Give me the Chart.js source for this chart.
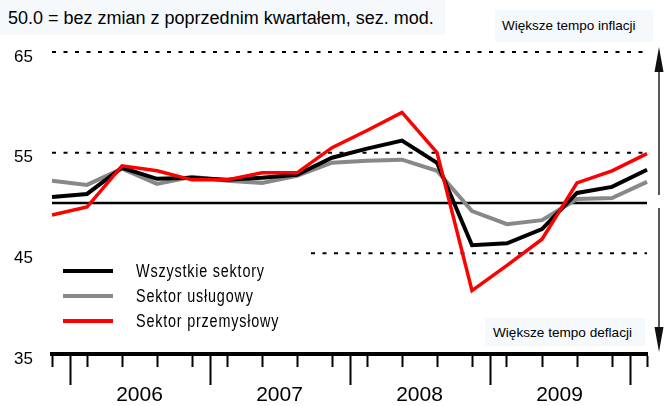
<!DOCTYPE html>
<html>
<head>
<meta charset="utf-8">
<script src="https://cdn.jsdelivr.net/npm/chart.js@4.4.1/dist/chart.umd.min.js"></script>
<style>
  html, body { margin: 0; padding: 0; background: #fff; }
  #wrap { position: relative; width: 665px; height: 406px; font-family: "Liberation Sans", Arial, sans-serif; overflow: hidden; }
  canvas { position: absolute; left: 0; top: 0; }
  .box { position: absolute; background: #f5f9fc; color: #000; white-space: nowrap; box-sizing: border-box; }
  #title { left: 0; top: 0; width: 445px; height: 35px; font-size: 18px; line-height: 36px; padding-left: 8px; }
  #infl { left: 495px; top: 10px; width: 158px; height: 32px; font-size: 13.5px; line-height: 32px; padding-left: 7px; }
  #defl { left: 485px; top: 318px; width: 160px; height: 28px; font-size: 13.6px; line-height: 29px; padding-left: 8px; }
  .legLine { position: absolute; left: 63px; width: 50px; height: 4px; }
  .legText { position: absolute; left: 136px; font-size: 18px; letter-spacing: 1px; line-height: 20px; white-space: nowrap; transform: scaleX(0.8); transform-origin: 0 0; }
</style>
</head>
<body>
<div id="wrap">
  <div class="box" id="title">50.0 = bez zmian z poprzednim kwartałem, sez. mod.</div>
  <div class="box" id="infl">Większe tempo inflacji</div>
  <div class="box" id="defl">Większe tempo deflacji</div>
  <canvas id="chart" width="665" height="406"></canvas>
</div>
<script>
// kwartały: IV kw. 2005 ... I kw. 2010
const quarters = [
  "IV 2005",
  "I 2006", "II 2006", "III 2006", "IV 2006",
  "I 2007", "II 2007", "III 2007", "IV 2007",
  "I 2008", "II 2008", "III 2008", "IV 2008",
  "I 2009", "II 2009", "III 2009", "IV 2009",
  "I 2010",
];

const seriesNames = ["Wszystkie sektory", "Sektor usługowy", "Sektor przemysłowy"];
const allSectors = [50.6, 50.9, 53.5, 52.4, 52.5, 52.3, 52.5, 52.8, 54.5, 55.4, 56.2, 54.0, 45.8, 46.0, 47.4, 51.0, 51.6, 53.3];
const services   = [52.2, 51.8, 53.4, 51.9, 52.6, 52.2, 52.0, 52.7, 54.0, 54.2, 54.3, 53.2, 49.2, 47.9, 48.3, 50.4, 50.5, 52.1];
const industry   = [48.8, 49.6, 53.7, 53.2, 52.3, 52.3, 53.0, 53.0, 55.5, 57.2, 59.0, 55.0, 41.3, 43.8, 46.4, 52.0, 53.2, 54.9];

const yTicks = [35, 45, 55, 65];
const baseLevel = 50;
const dashedLevels = [65, 55, 45];
const dashedFrom = [0, 0, 7.4];

const colors = ["#000000", "#888888", "#ff0000"];
const widths = [4, 4, 3.5];
const legendY = [271, 296, 321];

// legenda
const wrap = document.getElementById("wrap");
seriesNames.forEach((name, i) => {
  const line = document.createElement("div");
  line.className = "legLine";
  line.style.top = (legendY[i] - 2) + "px";
  line.style.background = colors[i];
  wrap.appendChild(line);
  const txt = document.createElement("div");
  txt.className = "legText";
  txt.style.top = (legendY[i] - 10) + "px";
  txt.textContent = name;
  wrap.appendChild(txt);
});

const toPoints = (arr) => arr.map((v, i) => ({ x: i, y: v }));
const last = quarters.length - 1;

// granice lat i etykiety lat z listy kwartałów
const yearOf = (q) => q.split(" ")[1];
const years = [];
quarters.forEach((q, i) => {
  const y = yearOf(q);
  let item = years.find((e) => e.year === y);
  if (!item) {
    item = { year: y, first: i, last: i };
    years.push(item);
  }
  item.last = i;
});

const decorPlugin = {
  id: "decor",
  afterDraw(chart) {
    const { ctx, chartArea } = chart;
    const xs = chart.scales.x;
    const ys = chart.scales.y;
    ctx.save();
    // długie kreski między latami
    ctx.strokeStyle = "#000";
    ctx.lineWidth = 2;
    years.forEach((e) => {
      if (e.first === 0) return;
      const px = Math.round(xs.getPixelForValue(e.first - 0.5)) + 0.5;
      ctx.beginPath();
      ctx.moveTo(px, chartArea.bottom);
      ctx.lineTo(px, chartArea.bottom + 31);
      ctx.stroke();
    });
    // etykiety lat (tylko pełne lata)
    ctx.fillStyle = "#000";
    ctx.font = "21px 'Liberation Sans', Arial, sans-serif";
    ctx.textAlign = "center";
    ctx.textBaseline = "top";
    years.forEach((e) => {
      if (e.last - e.first < 3) return;
      const px = xs.getPixelForValue((e.first + e.last) / 2);
      ctx.fillText(e.year, px, chartArea.bottom + 31);
    });
    // strzałki po prawej
    const ax = chartArea.right + 12;
    ctx.strokeStyle = "#222";
    ctx.fillStyle = "#111";
    ctx.lineWidth = 1.5;
    const up0 = ys.getPixelForValue(50.8), upTip = ys.getPixelForValue(65.5);
    const dn0 = ys.getPixelForValue(49.5), dnTip = ys.getPixelForValue(35.2);
    ctx.beginPath();
    ctx.moveTo(ax, up0); ctx.lineTo(ax, upTip + 20);
    ctx.moveTo(ax, dn0); ctx.lineTo(ax, dnTip - 20);
    ctx.stroke();
    ctx.beginPath();
    ctx.moveTo(ax, upTip); ctx.lineTo(ax - 4.5, upTip + 25); ctx.lineTo(ax + 4.5, upTip + 25); ctx.closePath();
    ctx.moveTo(ax, dnTip); ctx.lineTo(ax - 4.5, dnTip - 25); ctx.lineTo(ax + 4.5, dnTip - 25); ctx.closePath();
    ctx.fill();
    ctx.restore();
  },
};

const seriesData = [allSectors, services, industry];
const order = [2, 3, 1];
const datasets = seriesData.map((arr, i) => ({
  label: seriesNames[i],
  data: toPoints(arr),
  borderColor: colors[i],
  borderWidth: widths[i],
  order: order[i],
}));

datasets.push({
  label: "base",
  data: [{ x: 0, y: baseLevel }, { x: last, y: baseLevel }],
  borderColor: "#000",
  borderWidth: 2.5,
  order: 5,
});
dashedLevels.forEach((lvl, i) => {
  datasets.push({
    label: "ref" + lvl,
    data: [{ x: dashedFrom[i], y: lvl }, { x: last, y: lvl }],
    borderColor: "#000",
    borderWidth: 2,
    borderDash: [4, 7.5],
    order: 6,
  });
});

new Chart(document.getElementById("chart"), {
  type: "line",
  data: { datasets },
  plugins: [decorPlugin],
  options: {
    responsive: false,
    animation: false,
    devicePixelRatio: 1,
    layout: { padding: { top: 52, right: 18, left: 0, bottom: 0 } },
    datasets: {
      line: {
        pointRadius: 0,
        tension: 0,
        clip: false,
        borderJoinStyle: "miter",
        fill: false,
      },
    },
    scales: {
      x: {
        type: "linear",
        min: 0,
        max: last,
        afterFit: (s) => { s.height = 52; },
        ticks: { stepSize: 1, display: false },
        grid: { drawOnChartArea: false, drawTicks: true, tickLength: 13, tickWidth: 2, tickColor: "#000" },
        border: { display: true, width: 4, color: "#000" },
      },
      y: {
        min: yTicks[0],
        max: yTicks[yTicks.length - 1],
        afterFit: (s) => { s.width = 52; },
        afterBuildTicks: (s) => { s.ticks = yTicks.map((v) => ({ value: v })); },
        ticks: {
          color: "#000",
          padding: 19,
          labelOffset: 5,
          font: { size: 17, family: "'Liberation Sans', Arial, sans-serif" },
        },
        grid: { display: false, drawTicks: false },
        border: { display: false },
      },
    },
    plugins: {
      legend: { display: false },
      tooltip: { enabled: false },
      title: { display: false },
    },
  },
});
</script>
</body>
</html>
